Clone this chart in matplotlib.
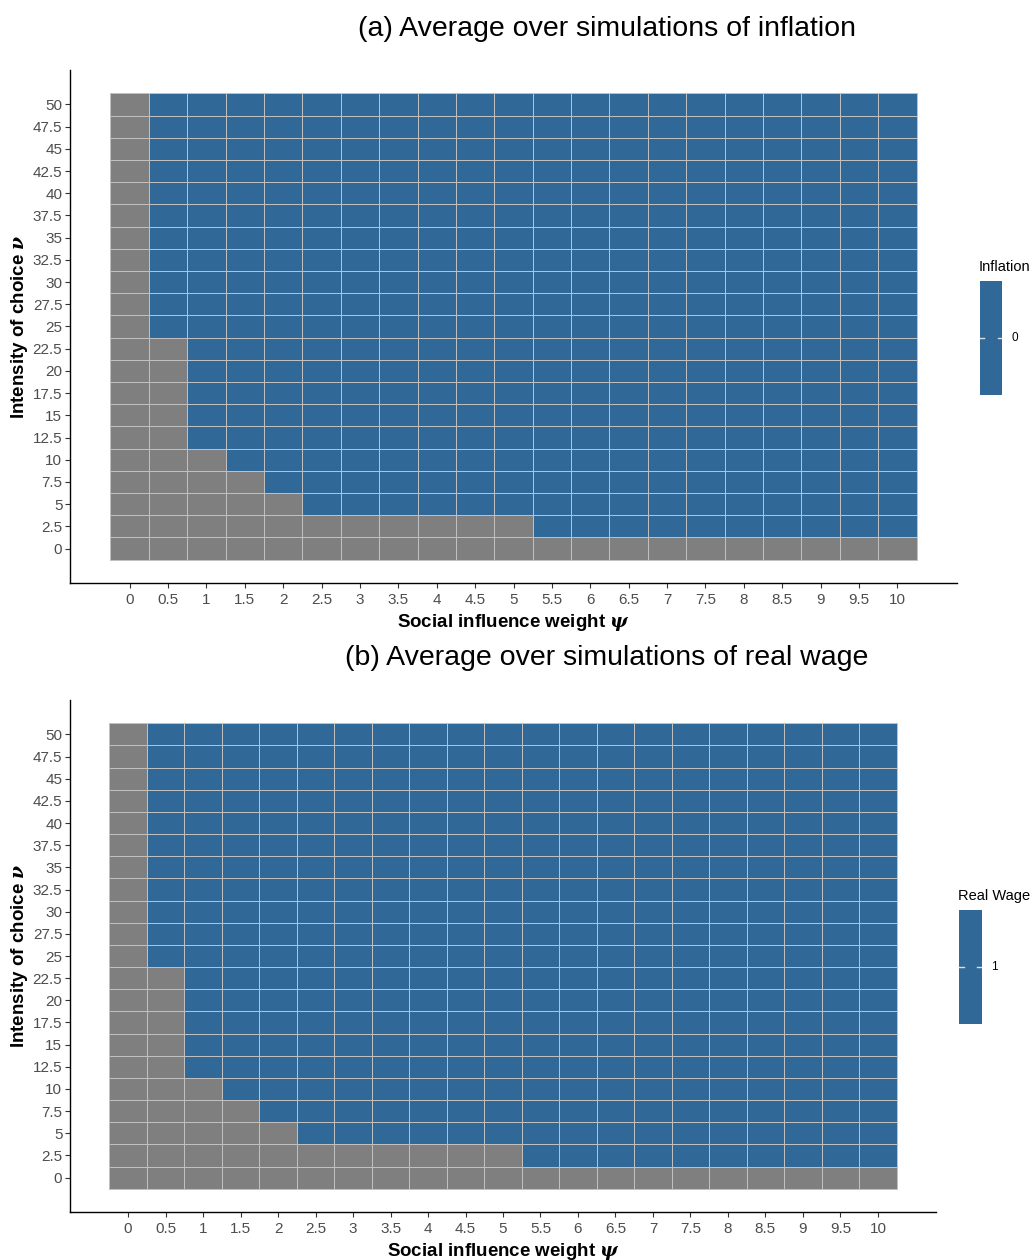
import numpy as np
import matplotlib.pyplot as plt
from matplotlib.colors import ListedColormap

plt.rcParams['font.family'] = ['Liberation Sans', 'DejaVu Sans']
plt.rcParams['mathtext.fontset'] = 'dejavuserif'

# parameter grid
psi = [0, 0.5, 1, 1.5, 2, 2.5, 3, 3.5, 4, 4.5, 5,
       5.5, 6, 6.5, 7, 7.5, 8, 8.5, 9, 9.5, 10]
nu = [0, 2.5, 5, 7.5, 10, 12.5, 15, 17.5, 20, 22.5, 25,
      27.5, 30, 32.5, 35, 37.5, 40, 42.5, 45, 47.5, 50]

# smallest nu with a stable outcome in each psi column (None = never)
nu_stable_from = [None, 25, 12.5, 10, 7.5, 5, 5, 5, 5, 5, 5,
                  2.5, 2.5, 2.5, 2.5, 2.5, 2.5, 2.5, 2.5, 2.5, 2.5]

mean_inflation = 0
mean_real_wage = 1

BLUE = '#306998'
NA_GREY = '#7f7f7f'
W, H = 1033, 1260


def grid_values(value):
    z = np.full((len(nu), len(psi)), np.nan)
    for j, lim in enumerate(nu_stable_from):
        if lim is None:
            continue
        for i, v in enumerate(nu):
            if v >= lim:
                z[i, j] = value
    return z


def px_axes(fig, x0, y0, x1, y1):
    return fig.add_axes([x0 / W, 1 - y1 / H, (x1 - x0) / W, (y1 - y0) / H])


def heat_panel(fig, box, z, title, title_y, legend_box, legend_title, legend_label):
    ax = px_axes(fig, *box)
    cmap = ListedColormap([BLUE])
    cmap.set_bad(NA_GREY)
    xe = np.arange(len(psi) + 1) * 0.5 - 0.25
    ye = np.arange(len(nu) + 1) * 2.5 - 1.25
    ax.pcolormesh(xe, ye, np.ma.masked_invalid(z), cmap=cmap,
                  edgecolors='#c0c0c0', linewidth=0.45)
    ax.add_patch(plt.Rectangle((xe[0], ye[0]), xe[-1] - xe[0], ye[-1] - ye[0],
                               fill=False, edgecolor='#c0c0c0', linewidth=0.7))
    ax.set_xlim(-0.775, 10.775)
    ax.set_ylim(-3.875, 53.875)
    ax.set_xticks(psi)
    ax.set_xticklabels([f'{v:g}' for v in psi])
    ax.set_yticks(nu)
    ax.set_yticklabels([f'{v:g}' for v in nu])
    ax.tick_params(labelsize=11, labelcolor='#4d4d4d', color='#333333',
                   length=3.5, width=0.8, pad=2)
    ax.tick_params(axis='x', pad=4)
    for s in ['top', 'right']:
        ax.spines[s].set_visible(False)
    for s in ['left', 'bottom']:
        ax.spines[s].set_linewidth(1.0)
    ax.set_xlabel(r'Social influence weight $\boldsymbol{\psi}$',
                  fontsize=13.5, fontweight='bold', labelpad=3)
    ax.set_ylabel(r'Intensity of choice $\boldsymbol{\nu}$',
                  fontsize=13.5, fontweight='bold', labelpad=2)
    fig.text(607 / W, 1 - (title_y + 2) / H, title, fontsize=20.5,
             ha='center', va='center')

    # single-colour legend bar
    lx0, ly0, lx1, ly1 = legend_box
    cax = px_axes(fig, lx0, ly0, lx1, ly1)
    cax.set_facecolor(BLUE)
    cax.set_xlim(0, 1)
    cax.set_ylim(0, 1)
    cax.plot([0, 0.2], [0.5, 0.5], color='#dddddd', lw=1)
    cax.plot([0.8, 1], [0.5, 0.5], color='#dddddd', lw=1)
    cax.set_xticks([])
    cax.set_yticks([])
    for s in cax.spines.values():
        s.set_visible(False)
    fig.text((lx0 - 1) / W, 1 - (ly0 - 14) / H, legend_title, fontsize=10.5,
             ha='left', va='center')
    fig.text((lx1 + 9) / W, 1 - ((ly0 + ly1) / 2) / H, legend_label,
             fontsize=8.5, ha='left', va='center')
    return ax


fig = plt.figure(figsize=(W / 100, H / 100), dpi=100)

heat_panel(fig, (70, 70, 957, 583), grid_values(mean_inflation),
           '(a) Average over simulations of inflation', 27,
           (980, 281, 1002, 395), 'Inflation', f'{mean_inflation}')
heat_panel(fig, (70, 700, 936, 1212), grid_values(mean_real_wage),
           '(b) Average over simulations of real wage', 656,
           (959, 910, 982, 1024), 'Real Wage', f'{mean_real_wage}')

fig.savefig('out.png', dpi=100)
